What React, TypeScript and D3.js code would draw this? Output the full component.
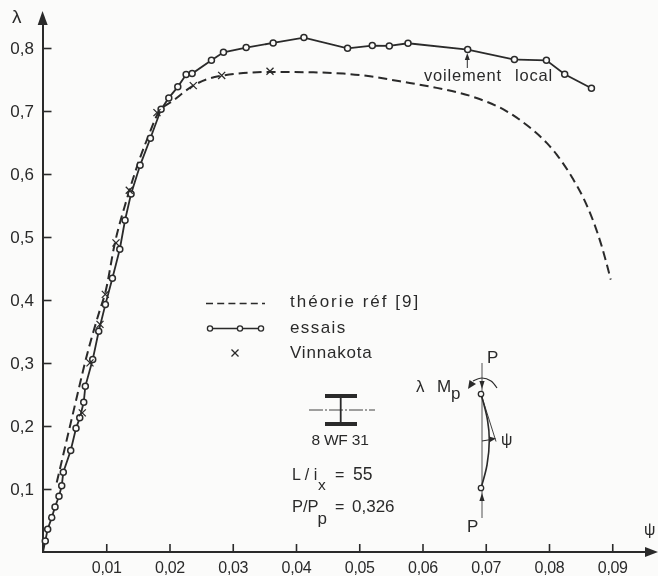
// App.tsx
import React, { useRef, useEffect } from 'react';
import * as d3 from 'd3';

type Pt = [number, number];

const xTicks = [0.01, 0.02, 0.03, 0.04, 0.05, 0.06, 0.07, 0.08, 0.09];
const yTicks = [0.1, 0.2, 0.3, 0.4, 0.5, 0.6, 0.7, 0.8];

// [psi, lambda]
const essais: Pt[] = [
    [0, 0], [0.00036, 0.0176], [0.00074, 0.036], [0.00138, 0.0546], [0.0019, 0.0716], [0.00253, 0.0884],
    [0.00296, 0.105], [0.00321, 0.1265], [0.00438, 0.161], [0.00522, 0.1963], [0.00581, 0.2129],
    [0.00644, 0.2376], [0.00669, 0.263], [0.00786, 0.3054], [0.00881, 0.3503], [0.00986, 0.3927],
    [0.01097, 0.4344], [0.01214, 0.4805], [0.01297, 0.5265], [0.01392, 0.5684], [0.01535, 0.6138],
    [0.01698, 0.6567], [0.01867, 0.7027], [0.01989, 0.7208], [0.02131, 0.7383], [0.02263, 0.7578],
    [0.02358, 0.7594], [0.02663, 0.7805], [0.02853, 0.7932], [0.03212, 0.8006], [0.03639, 0.8081],
    [0.04125, 0.8165], [0.04815, 0.7995], [0.05206, 0.8038], [0.05475, 0.8033], [0.05771, 0.8075],
    [0.06714, 0.7975], [0.07453, 0.7816], [0.07959, 0.7805], [0.08248, 0.7583], [0.08671, 0.736],
];

const theorie: Pt[] = [
    [0.00217, 0.1102], [0.00533, 0.2451], [0.00664, 0.3006], [0.00901, 0.3848], [0.00985, 0.4117],
    [0.01138, 0.4911], [0.01323, 0.5594], [0.01534, 0.6256], [0.01665, 0.6598], [0.01823, 0.697],
    [0.0206, 0.7165], [0.02376, 0.7403], [0.02772, 0.7551], [0.03589, 0.7621], [0.04274, 0.7614],
    [0.04748, 0.7594], [0.0517, 0.7551], [0.05644, 0.7471], [0.06225, 0.7367], [0.06803, 0.7224],
    [0.07331, 0.6995], [0.07673, 0.6757], [0.07964, 0.6494], [0.08122, 0.6308], [0.08385, 0.5911],
    [0.08543, 0.5621], [0.08701, 0.5249], [0.08834, 0.4852], [0.08976, 0.4324],
];

const vinnakota: Pt[] = [
    [0.00621, 0.2208], [0.00743, 0.3002], [0.00901, 0.3613], [0.00985, 0.4089], [0.01154, 0.4906],
    [0.01364, 0.5741], [0.01802, 0.6974], [0.02376, 0.7403], [0.02825, 0.7565], [0.03589, 0.7632],
];

const legendLabels = ['théorie réf [9]', 'essais', 'Vinnakota'];

const ink = '#2a2a2a';
const paper = '#fbfbfa';
const font = '"Liberation Sans", sans-serif';

const App = () => {
    const chartRef = useRef<SVGSVGElement>(null);

    useEffect(() => {
        d3.select(chartRef.current).selectAll('*').remove();

        const root = d3.select(chartRef.current).attr('width', 658).attr('height', 576);

        root.append('rect').attr('width', 658).attr('height', 576).attr('fill', paper);

        // soft edge, the original is a scan
        root.append('defs').append('filter').attr('id', 'scan')
            .append('feGaussianBlur').attr('stdDeviation', 0.45);

        const svg = root.append('g').attr('filter', 'url(#scan)');

        const xScale = d3.scaleLinear().domain([0, 0.09]).range([43, 612.25]);
        const yScale = d3.scaleLinear().domain([0, 0.8]).range([552, 48]);
        const comma = (d: any) => d3.format(d < 0.1 ? '.2f' : '.1f')(d).replace('.', ',');

        const addText = (x: number, y: number, s: string, size: number, extra = 0, anchor = 'start') =>
            svg.append('text')
                .attr('x', x).attr('y', y)
                .attr('text-anchor', anchor)
                .attr('fill', ink)
                .style('font-family', font)
                .style('font-size', `${size}px`)
                .style('letter-spacing', `${extra}px`)
                .text(s);

        const addLine = (pts: Pt[], w = 1.2, gen = d3.line()) =>
            svg.append('path').attr('d', gen(pts)).attr('fill', 'none').attr('stroke', ink).attr('stroke-width', w);

        const addHead = (pts: Pt[]) =>
            svg.append('path').attr('d', `${d3.line()(pts)}Z`).attr('fill', ink).attr('stroke', 'none');

        // axes
        const xAxis = d3.axisBottom(xScale).tickValues(xTicks).tickSize(-8).tickPadding(10).tickFormat(comma);
        const yAxis = d3.axisLeft(yScale).tickValues(yTicks).tickSize(-8.5).tickPadding(9).tickFormat(comma);

        const gx = svg.append('g').attr('transform', 'translate(0,552)').call(xAxis);
        const gy = svg.append('g').attr('transform', 'translate(43,0)').call(yAxis);

        [gx, gy].forEach((g) => {
            g.select('.domain').remove();
            g.selectAll('line').attr('stroke', ink).attr('stroke-width', 1.6);
            g.selectAll('text').attr('fill', ink).style('font-family', font);
        });
        gx.selectAll('text').style('font-size', '16px').style('letter-spacing', '-0.3px').attr('dy', '0.66em');
        gy.selectAll('text').style('font-size', '17px');

        addLine([[43, 24], [43, 552], [646, 552]], 2);
        addHead([[42.5, 11], [37.7, 25], [47.7, 25]]);
        addHead([[658, 552], [645, 547], [645, 557]]);
        addText(12, 23, 'λ', 19);
        addText(644, 535, 'ψ', 16);

        // curves
        const line = d3.line<Pt>().x((d) => xScale(d[0])).y((d) => yScale(d[1]));

        svg.append('path')
            .datum(theorie)
            .attr('d', line.curve(d3.curveMonotoneX))
            .attr('fill', 'none').attr('stroke', ink).attr('stroke-width', 2)
            .attr('stroke-dasharray', '9,5');

        svg.append('path')
            .datum(essais)
            .attr('d', line.curve(d3.curveLinear))
            .attr('fill', 'none').attr('stroke', ink).attr('stroke-width', 1.8);

        svg.selectAll('circle.essai')
            .data(essais.slice(1))
            .enter()
            .append('circle')
            .attr('class', 'essai')
            .attr('cx', (d) => xScale(d[0]))
            .attr('cy', (d) => yScale(d[1]))
            .attr('r', 3)
            .attr('fill', paper).attr('stroke', ink).attr('stroke-width', 1.5);

        const cross = d3.symbol().type(d3.symbolX).size(34);
        svg.selectAll('path.vinna')
            .data(vinnakota)
            .enter()
            .append('path')
            .attr('class', 'vinna')
            .attr('transform', (d) => `translate(${xScale(d[0])},${yScale(d[1])})`)
            .attr('d', cross)
            .attr('fill', 'none').attr('stroke', ink).attr('stroke-width', 1.3);

        // voilement local
        addText(424, 81, 'voilement', 16.5, 0.8);
        addText(515, 81, 'local', 16.5, 0.8);
        addLine([[467.3, 68], [467.3, 58]], 1);
        addHead([[467.3, 53], [464.8, 60], [469.8, 60]]);

        // legend
        svg.append('line').attr('x1', 206).attr('x2', 265).attr('y1', 303.5).attr('y2', 303.5)
            .attr('stroke', ink).attr('stroke-width', 1.5).attr('stroke-dasharray', '7,4.2');
        addLine([[210, 328.5], [261, 328.5]], 1.5);
        [210, 240, 261].forEach((cx) => {
            svg.append('circle').attr('cx', cx).attr('cy', 328.5).attr('r', 2.6)
                .attr('fill', paper).attr('stroke', ink).attr('stroke-width', 1.3);
        });
        svg.append('path').attr('transform', 'translate(235,353)').attr('d', cross)
            .attr('fill', 'none').attr('stroke', ink).attr('stroke-width', 1.3);
        const legendSpacing = [2, 1.4, 0.8];
        legendLabels.forEach((s, i) => addText(290, [307, 333, 358][i], s, 17, legendSpacing[i]));

        // I section
        svg.append('rect').attr('x', 325).attr('y', 394).attr('width', 32).attr('height', 4).attr('fill', ink);
        svg.append('rect').attr('x', 325).attr('y', 422).attr('width', 32).attr('height', 4).attr('fill', ink);
        addLine([[340.7, 396], [340.7, 424]], 1.8);
        svg.append('line').attr('x1', 309).attr('x2', 375).attr('y1', 410).attr('y2', 410)
            .attr('stroke', ink).attr('stroke-width', 0.9).attr('stroke-dasharray', '14,2,2,2');
        addText(340, 445, '8 WF 31', 15.5, -0.2, 'middle');

        addText(292, 480, 'L / i', 16);
        addText(318, 490, 'x', 15.5);
        addText(335, 480, '=', 16);
        addText(353, 480, '55', 17.5);
        addText(292, 512, 'P/P', 16.5);
        addText(317.5, 524, 'p', 17);
        addText(335, 512, '=', 16);
        addText(352, 512, '0,326', 17);

        // column sketch
        addLine([[482, 363], [482, 518]], 0.8);
        addHead([[482, 389], [479.4, 381], [484.6, 381]]);
        addHead([[482, 493], [479.4, 501], [484.6, 501]]);
        const bow = d3.line().curve(d3.curveCatmullRom);
        addLine([[481, 394], [487.5, 420], [489.3, 440], [487, 465], [481, 488]], 1.6, bow);
        addLine([[481, 394], [496, 441.5]], 0.9);
        addLine([[482, 441], [491, 439.5]], 1);
        addHead([[496, 438.5], [489, 436.5], [490, 442]]);
        addLine([[497, 388], [491, 381], [482, 378], [473, 381]], 1.2, bow);
        addHead([[468, 389], [469.5, 380], [476, 384]]);
        [394, 488].forEach((cy) => {
            svg.append('circle').attr('cx', 481).attr('cy', cy).attr('r', 2.7)
                .attr('fill', paper).attr('stroke', ink).attr('stroke-width', 1.3);
        });
        addText(487, 363, 'P', 17);
        addText(467, 532, 'P', 17);
        addText(416, 392, 'λ', 17);
        addText(437, 392, 'M', 17);
        addText(451, 399, 'p', 17);
        addText(501, 445, 'ψ', 16);
    }, []);

    return <svg ref={chartRef} style={{ position: 'absolute', left: 0, top: 0 }}></svg>;
};

export default App;
